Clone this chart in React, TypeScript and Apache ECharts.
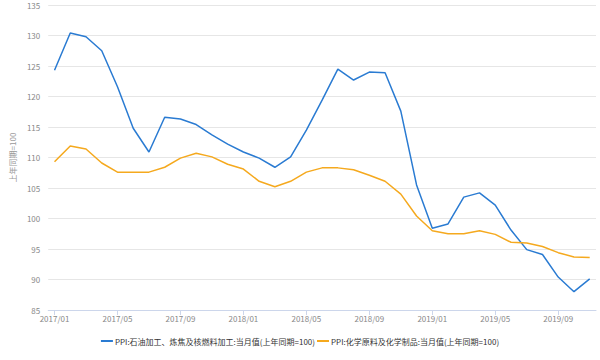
import React, { useEffect, useRef } from "react";
import * as echarts from "echarts";

const months: string[] = [
  "2017/01","2017/02","2017/03","2017/04","2017/05","2017/06","2017/07","2017/08","2017/09","2017/10","2017/11","2017/12",
  "2018/01","2018/02","2018/03","2018/04","2018/05","2018/06","2018/07","2018/08","2018/09","2018/10","2018/11","2018/12",
  "2019/01","2019/02","2019/03","2019/04","2019/05","2019/06","2019/07","2019/08","2019/09","2019/10","2019/11",
];

const petroleum: number[] = [
  124.3, 130.4, 129.8, 127.5, 121.6, 114.8, 110.9, 116.6, 116.3, 115.4, 113.7, 112.2,
  110.9, 109.9, 108.4, 110.1, 114.5, 119.4, 124.5, 122.7, 124.0, 123.9, 117.6, 105.5,
  98.4, 99.1, 103.5, 104.2, 102.2, 98.1, 94.9, 94.1, 90.4, 88.0, 90.1,
];

const chemical: number[] = [
  109.3, 111.9, 111.4, 109.1, 107.6, 107.6, 107.6, 108.4, 109.9, 110.7, 110.1, 108.9,
  108.1, 106.1, 105.2, 106.1, 107.6, 108.3, 108.3, 108.0, 107.1, 106.1, 104.0, 100.4,
  98.0, 97.5, 97.5, 98.0, 97.4, 96.1, 96.0, 95.4, 94.4, 93.7, 93.6,
];

const tickIndices: number[] = [0, 4, 8, 12, 16, 20, 24, 28, 32];

const seriesNames: string[] = [
  "PPI:石油加工、炼焦及核燃料加工:当月值(上年同期=100)",
  "PPI:化学原料及化学制品:当月值(上年同期=100)",
];

const yAxisName = "上年同期=100";

export default function App() {
  const ref = useRef<HTMLDivElement>(null);
  useEffect(() => {
    if (!ref.current) return;
    const chart = echarts.init(ref.current, undefined, { renderer: "svg" });
    const font = "'Noto Sans CJK SC', 'Noto Sans', sans-serif";
    chart.setOption({
      animation: false,
      color: ["#2a7bd2", "#f5a91e"],
      textStyle: { fontFamily: font },
      grid: { left: 45, right: 4, top: 5, bottom: 50, containLabel: false },
      legend: {
        bottom: 10,
        left: "center",
        itemGap: 2,
        itemWidth: 12,
        itemHeight: 2,
        icon: "rect",
        data: seriesNames,
        textStyle: { fontSize: 8, color: "#333", fontFamily: font, padding: [0, 0, 0, -3] },
      },
      xAxis: {
        type: "value",
        min: -0.4,
        max: 34.4,
        axisLine: { show: true, lineStyle: { color: "#ccd6eb", width: 1 } },
        axisTick: { show: true, length: 5, lineStyle: { color: "#ccd6eb" }, customValues: tickIndices },
        axisLabel: {
          customValues: tickIndices,
          formatter: (v: number) => months[Math.round(v)] ?? "",
          color: "#888",
          fontSize: 8,
          margin: 4,
        },
        splitLine: { show: false },
      },
      yAxis: {
        type: "value",
        min: 85,
        max: 135,
        interval: 5,
        name: yAxisName,
        nameLocation: "middle",
        nameGap: 30,
        nameTextStyle: { color: "#999", fontSize: 8 },
        axisLine: { show: false },
        axisTick: { show: false },
        axisLabel: { color: "#888", fontSize: 8, margin: 8 },
        splitLine: { show: true, lineStyle: { color: "#e6e6e6", width: 1 } },
      },
      series: [
        {
          name: seriesNames[0],
          type: "line",
          symbol: "none",
          lineStyle: { width: 1.5 },
          data: petroleum.map((v, i) => [i, v]),
        },
        {
          name: seriesNames[1],
          type: "line",
          symbol: "none",
          lineStyle: { width: 1.5 },
          data: chemical.map((v, i) => [i, v]),
        },
      ],
    });
    return () => chart.dispose();
  }, []);
  return <div ref={ref} style={{ width: 600, height: 360, position: "absolute", left: 0, top: 0 }} />;
}
